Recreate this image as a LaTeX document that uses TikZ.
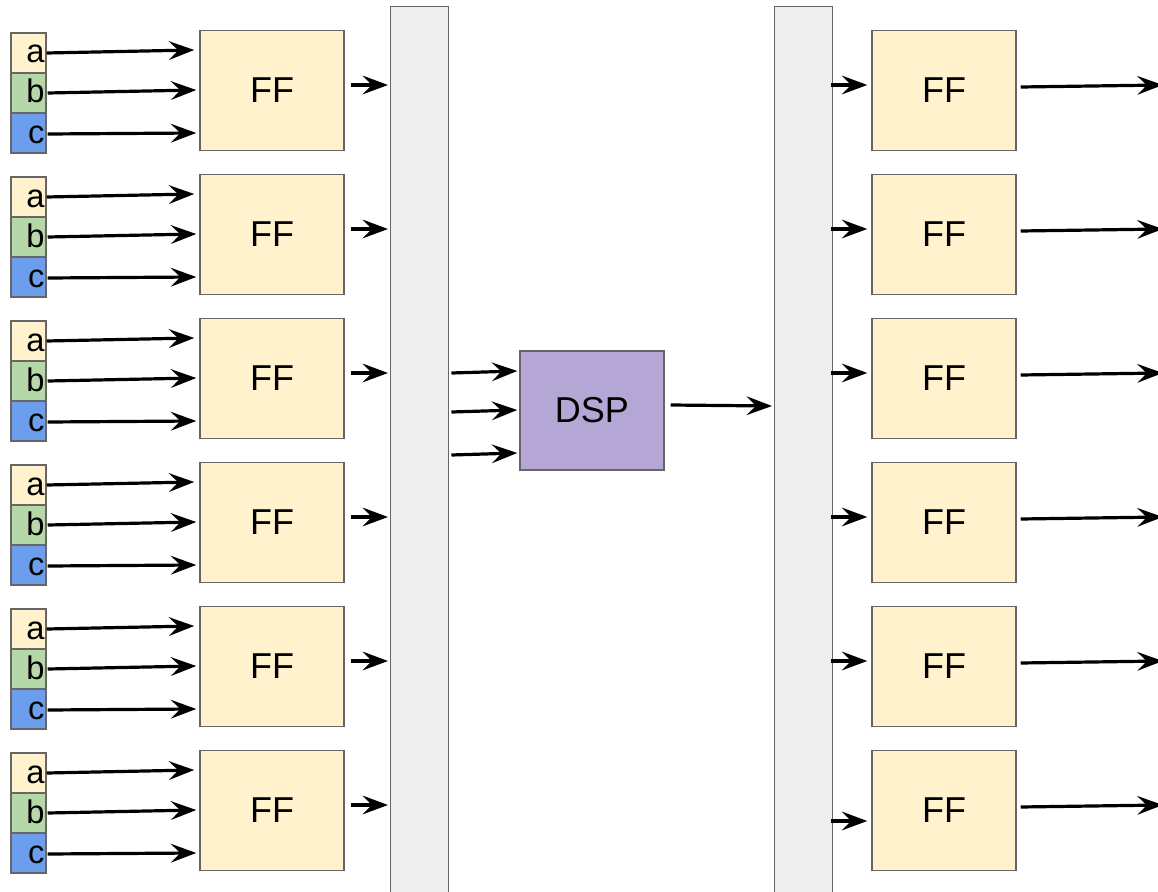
\documentclass[tikz,border=0pt]{standalone}
\usepackage{fontspec}
\setmainfont{Liberation Sans}
\usetikzlibrary{arrows.meta,calc}

\definecolor{ffyellow}{HTML}{FFF2CC}
\definecolor{sigyellow}{HTML}{FFF2CC}
\definecolor{siggreen}{HTML}{B6D7A8}
\definecolor{sigblue}{HTML}{6D9EEB}
\definecolor{dspviolet}{HTML}{B4A7D6}
\definecolor{barfill}{HTML}{EEEEEE}
\definecolor{edge}{HTML}{666666}

\tikzset{
  box/.style={draw=edge, line width=1.1pt, inner sep=0pt},
  ffbox/.style={box, fill=ffyellow, minimum width=108pt, minimum height=90pt,
    font=\fontsize{27}{30}\selectfont},
  dspbox/.style={box, fill=dspviolet, minimum width=108pt, minimum height=89pt,
    font=\fontsize{27}{30}\selectfont},
  sig/.style={box, minimum width=26.25pt, minimum height=30pt, text width=24pt,
    align=right, text height=18pt, text depth=3pt, font=\fontsize{24.5}{26}\selectfont},
  bar/.style={draw=edge, line width=1.1pt, fill=barfill},
  wire/.style={line width=2.4pt, -{Stealth[length=19pt, width=14pt, inset=7pt]}}
}

\begin{document}
\begin{tikzpicture}[x=0.75pt, y=-0.75pt]
  \useasboundingbox (0,0) rectangle (1158,892);
  \clip (0,0) rectangle (1158,892);

  % the two bus bars
  \node[bar, minimum width=43.5pt, minimum height=690pt, anchor=north west, inner sep=0pt]
    (lbar) at (390,6) {};
  \node[bar, minimum width=43.5pt, minimum height=690pt, anchor=north west, inner sep=0pt]
    (rbar) at (774,6) {};

  % the DSP block
  \node[dspbox] (dsp) at (592,410.5) {DSP};

  \foreach \k in {0,...,5} {
    \pgfmathsetmacro{\yo}{144*\k}
    % input signals of one flip-flop
    \node[sig, fill=sigyellow] (a\k) at (28.5,53+\yo) {a};
    \node[sig, fill=siggreen]  (b\k) at (28.5,93+\yo) {b};
    \node[sig, fill=sigblue]   (c\k) at (28.5,133+\yo) {c};
    % flip-flops on both sides
    \node[ffbox] (lff\k) at (272,90.5+\yo) {FF};
    \node[ffbox] (rff\k) at (944,90.5+\yo) {FF};
    % signals into the left flip-flop
    \draw[wire] (a\k.east) -- ($(lff\k.west |- a\k.east)+(-5,-3)$);
    \draw[wire] ($(b\k.east)+(1,0)$) -- ($(lff\k.west |- b\k.east)+(-3,-3)$);
    \draw[wire] ($(c\k.east)+(1,1)$) -- ($(lff\k.west |- c\k.east)+(-3,0)$);
    % left flip-flop onto the bus
    \draw[wire] ($(lff\k.east)+(6,-5.5)$) -- ($(lbar.west |- lff\k.east)+(-2,-5.5)$);
    % right flip-flop output
    \draw[wire] ($(rff\k.east)+(4,-3.5)$) -- ($(rff\k.east)+(146,-5.5)$);
  }

  % bus into the right flip-flops
  \foreach \k in {0,...,4} {
    \draw[wire] ($(rbar.east |- rff\k.west)+(-2,-5.5)$) -- ($(rff\k.west)+(-4,-5.5)$);
  }
  \draw[wire] ($(rbar.east |- rff5.west)+(-2,10.5)$) -- ($(rff5.west)+(-4,10.5)$);

  % bus into the DSP and DSP result onto the right bus
  \draw[wire] ($(lbar.east |- dsp.west)+(2,-37.5)$) -- ($(dsp.west)+(-2,-39.5)$);
  \draw[wire] ($(lbar.east |- dsp.west)+(2,1.5)$) -- ($(dsp.west)+(-2,-0.5)$);
  \draw[wire] ($(lbar.east |- dsp.west)+(2,44.5)$) -- ($(dsp.west)+(-2,42.5)$);
  \draw[wire] ($(dsp.east)+(6,-5.5)$) -- ($(rbar.west |- dsp.east)+(-2,-4.5)$);
\end{tikzpicture}
\end{document}
